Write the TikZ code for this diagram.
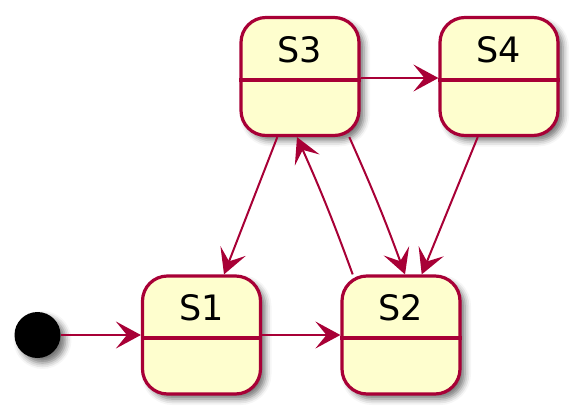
\documentclass[tikz,border=0pt]{standalone}
\usepackage{fontspec}
\newfontfamily\statefont{DejaVu Sans}
\usepackage{tikz}
\usetikzlibrary{arrows.meta,positioning,shadows.blur}
\usepackage{xcolor}
\definecolor{Crimson}{HTML}{A80036}
\definecolor{StateYellow}{HTML}{FEFECE}

\begin{document}
\begin{tikzpicture}[
  x=0.5pt, y=-0.5pt,
  state/.style={draw=Crimson, fill=StateYellow, line width=1.6pt,
                rounded corners=12.5pt, minimum width=59pt, minimum height=59pt,
                inner sep=0pt,
                blur shadow={shadow xshift=2.5pt, shadow yshift=-2.5pt,
                             shadow blur radius=3pt, shadow opacity=55}},
  statename/.style={font=\statefont\fontsize{17.5}{21}\selectfont, inner sep=0pt},
  divider/.style={draw=Crimson, line width=1.6pt},
  initial/.style={circle, fill=black, minimum size=23pt, inner sep=0pt,
                  blur shadow={shadow xshift=2.5pt, shadow yshift=-2.5pt,
                               shadow blur radius=3pt, shadow opacity=55}},
  trans/.style={draw=Crimson, line width=1pt,
                -{Stealth[length=12.5pt, width=13.5pt, inset=5.5pt]}}
]
  \useasboundingbox (0,0) rectangle (583,417);

  \node[initial] (start) at (37.5,335) {};
  \node[state] (s1) at (201.5,335) {};
  \node[state] (s2) at (401,335) {};
  \node[state] (s3) at (300,76.5) {};
  \node[state] (s4) at (499,76.5) {};

  \node[statename] (s1name) at ([yshift=13.5pt]s1.center) {S1};
  \node[statename] (s2name) at ([yshift=13.5pt]s2.center) {S2};
  \node[statename] (s3name) at ([yshift=13.5pt]s3.center) {S3};
  \node[statename] (s4name) at ([yshift=13.5pt]s4.center) {S4};

  \draw[divider] ([yshift=-1.5pt]s1.west) -- ([yshift=-1.5pt]s1.east);
  \draw[divider] ([yshift=-1.5pt]s2.west) -- ([yshift=-1.5pt]s2.east);
  \draw[divider] ([yshift=-1.75pt]s3.west) -- ([yshift=-1.75pt]s3.east);
  \draw[divider] ([yshift=-1.75pt]s4.west) -- ([yshift=-1.75pt]s4.east);

  \draw[trans] (start) -- (s1);
  \draw[trans] (s1) -- (s2);
  \draw[trans] ([yshift=-0.75pt]s3.east) -- ([yshift=-0.75pt]s4.west);
  \draw[trans] ([xshift=-11.35pt]s3.south) -- ([xshift=11.25pt]s1.north);
  \draw[trans] ([xshift=-24.15pt]s2.north) to[bend right=2] ([xshift=-1.5pt]s3.south);
  \draw[trans] ([xshift=24.65pt]s3.south) to[bend left=2] ([xshift=2pt]s2.north);
  \draw[trans] ([xshift=-10.65pt]s4.south) -- ([xshift=10.35pt]s2.north);
\end{tikzpicture}
\end{document}
